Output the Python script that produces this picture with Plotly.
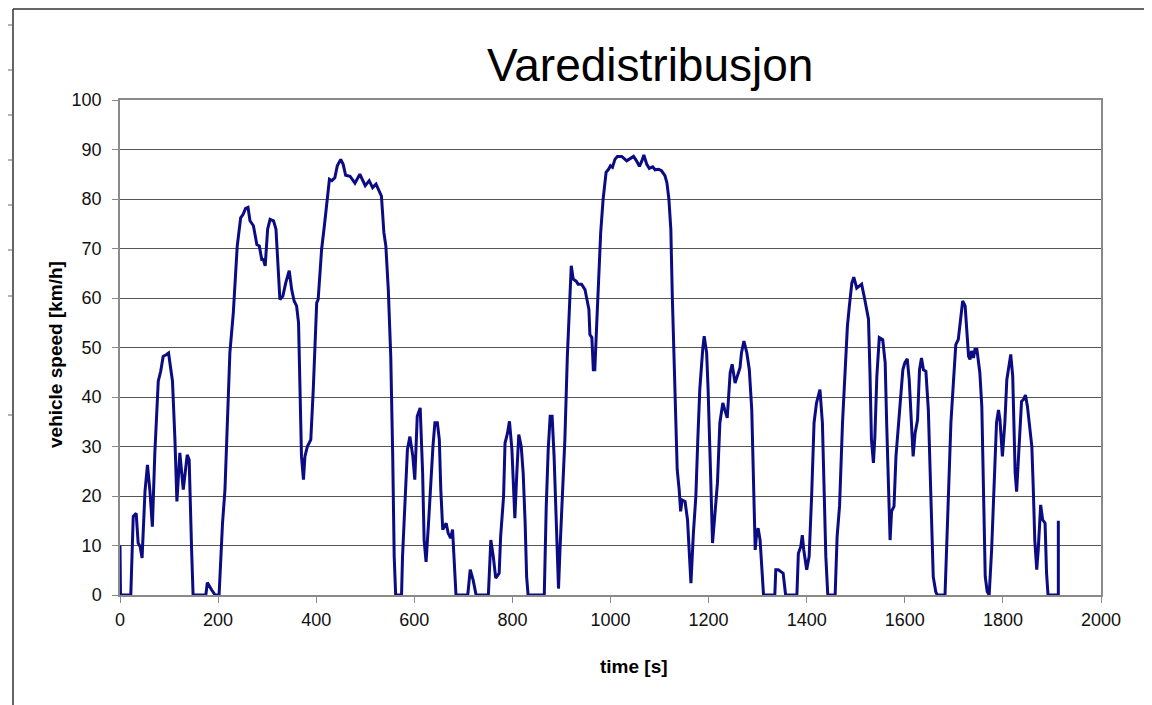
#importing necessary libraries
import plotly.graph_objs as go

#speed trace (time in s, speed in km/h)
time_s=[0,1,22,24,27,33,37,41,45,51,56,61,66,71,78,83,88,95,99,103,107,112,116,122,129,137,141,146,149,
        175,178,187,194,202,205,209,214,217,224,231,234,239,246,251,256,261,265,272,279,284,289,292,296,
        301,306,313,318,323,326,332,338,345,350,355,360,364,367,370,374,377,382,389,394,401,404,411,417,
        421,427,432,438,443,450,455,460,469,479,489,500,508,515,522,530,533,538,542,547,552,556,559,562,
        574,576,581,586,591,597,601,606,612,617,620,624,629,632,638,642,647,651,654,658,665,669,674,678,
        682,685,709,714,720,726,751,756,761,766,773,776,782,785,790,794,799,802,805,809,813,818,822,826,
        829,832,865,869,873,877,881,885,889,894,897,902,907,912,916,920,924,930,934,941,948,952,956,958,
        962,965,968,972,975,980,985,991,996,1000,1004,1009,1014,1023,1033,1047,1053,1059,1064,1068,1074,
        1079,1086,1091,1098,1104,1111,1115,1119,1123,1126,1130,1133,1136,1140,1143,1146,1152,1157,1160,
        1164,1169,1174,1178,1182,1188,1191,1196,1199,1204,1208,1213,1218,1223,1229,1233,1238,1244,1248,
        1254,1259,1264,1267,1272,1278,1283,1288,1291,1295,1298,1301,1305,1308,1312,1335,1337,1342,1352,
        1357,1380,1383,1388,1391,1394,1400,1405,1410,1415,1420,1427,1432,1435,1439,1443,1458,1462,1467,
        1473,1478,1483,1487,1492,1496,1502,1507,1512,1517,1522,1526,1529,1532,1536,1539,1543,1548,1555,
        1560,1563,1567,1570,1573,1578,1582,1587,1592,1596,1600,1605,1609,1613,1617,1621,1626,1630,1634,
        1638,1643,1648,1651,1655,1658,1663,1666,1682,1685,1689,1694,1699,1704,1709,1714,1718,1723,1726,
        1730,1733,1736,1740,1743,1747,1750,1753,1757,1760,1764,1768,1772,1777,1781,1784,1787,1791,1794,
        1799,1804,1808,1811,1816,1820,1823,1825,1828,1832,1835,1838,1842,1846,1850,1854,1859,1862,1865,
        1869,1872,1877,1881,1886,1889,1892,1913,1913]
speed_kmh=[10,0,0,7.8,15.9,16.5,10.5,9.8,7.5,21,26.3,21,13.8,28.7,43.2,45.2,48.2,48.6,48.9,46,43.2,31.4,18.9,28.7,21.3,28.3,27.3,9.1,0,
           0,2.5,1,0,0,7.8,14.5,21.3,30.7,48.9,57,61.7,70.5,76.2,76.9,78.1,78.3,75.6,74.6,70.8,70.5,67.8,67.8,66.5,
           73.9,75.9,75.6,73.9,64.4,59.7,60.4,63.1,65.5,61.7,59.4,58.4,55,41.5,28,23.3,28,30,31.4,41.5,59,59.7,69.8,74.9,
           78.6,84,83.7,84.3,86.7,88,87,84.8,84.6,83.2,85,82.7,83.7,82.3,83,81.3,80.6,73.2,70.5,61.7,48.2,28,7.8,0,
           0,7.8,19.2,29.4,32,28,23.3,36.1,37.8,24.6,11.1,6.7,14.5,19.9,30,34.8,34.8,31.4,21.3,13.2,14.5,12.5,11.5,13.2,
           6.4,0,0,5.1,3,0,0,11.1,7.8,3.4,4.4,11.8,19.9,30.7,32.7,35.1,29.4,21.3,15.5,24.6,32.4,30,24.6,14.5,
           3.7,0,0,17.9,29.4,36.1,36.1,28,14.5,1.3,9.1,19.9,31.4,48.2,58.4,66.5,63.8,63.4,62.8,62.8,61.7,59.4,57.7,52.6,
           52,45.5,45.5,55,61.7,73.2,80,85.4,86,86.7,86.4,88,88.6,88.6,87.7,88.6,87.7,86.6,87.7,88.9,87,
           86.2,86.5,85.9,86,85.7,84.7,83.3,80,73.9,60.4,44.9,34.8,25.3,21.3,16.9,19.2,18.9,15.2,9.1,
           2.4,12.5,19.9,31.4,41.5,49.6,52.3,48.9,41.5,24.6,10.5,16.5,22.6,34.8,38.8,37.4,35.8,44.9,46.6,
           42.8,44.2,45.9,48.9,51.3,48.9,45.5,37.4,24.6,9.1,12.5,13.5,11.1,6.4,0,0,5.1,5.1,4.4,
           0,0,8.4,9.8,12.1,9.1,5.1,7.8,19.9,34.8,38.8,41.5,34.8,21.3,7.8,0,0,11.8,18,
           34.8,44.9,54.3,58.4,63,64.2,62,62.4,62.8,60.4,57.7,55.7,44.9,31.4,26.7,32,44.2,52,51.6,
           46.9,34.8,21.3,11.1,16.9,17.9,28,34.8,41.5,45.5,46.9,47.7,43.5,35.4,28,32.7,35.4,45.5,47.9,
           45.5,45.2,37.4,28,14.5,3.7,0.7,0,0,7.8,19.9,34.8,42.8,50.6,51.6,56.3,59.4,58.4,53.6,
           48.2,47.6,49.3,47.9,49.6,49.6,47.6,44.9,38.1,24.6,3.7,0.7,0,9.1,19.9,29.4,34.8,37.4,35.4,
           28,34.8,43.5,45.5,48.6,44.2,34.8,24.6,20.9,28,34.8,39.1,39.5,40.4,38.1,34.8,30,21.3,11.1,
           5.1,9.1,18.2,15.2,14.5,4.4,0,0,15]

x_ticks=[0,200,400,600,800,1000,1200,1400,1600,1800,2000]
y_ticks=[0,10,20,30,40,50,60,70,80,90,100]

#the page puts the figure 8px in from the corner, so work in screen pixels and shift
OFF=8
W,H=1152-OFF,705-OFF
L,R,T,B=120-OFF,1101-OFF,100-OFF,595-OFF
pw,ph=R-L,B-T
def px(x): return (x-OFF-L)/pw
def py(y): return (B-(y-OFF))/ph

fig=go.Figure()

fig.add_trace(go.Scatter(
    x=time_s,
    y=speed_kmh,
    mode='lines',
    line=dict(color='#0b0b84',width=3),
    showlegend=False
))

#frame lines of the spreadsheet around the chart
shapes=[]
line_col='#333333'
shapes.append(dict(type='line',xref='paper',yref='paper',x0=px(13),x1=px(1148),y0=py(9),y1=py(9),line=dict(color=line_col,width=1.5)))
shapes.append(dict(type='line',xref='paper',yref='paper',x0=px(13),x1=px(13),y0=py(9),y1=py(706),line=dict(color=line_col,width=1.5)))
shapes.append(dict(type='line',xref='paper',yref='paper',x0=px(1148),x1=px(1148),y0=py(9),y1=py(706),line=dict(color=line_col,width=1.5)))
for yy in [25,70,115,160,205,250,296,415]:
    shapes.append(dict(type='line',xref='paper',yref='paper',x0=px(0),x1=px(13),y0=py(yy),y1=py(yy),line=dict(color='#666666',width=1)))

font_name='Liberation Sans, Arial, sans-serif'

# Update layout
fig.update_layout(
    width=W,height=H,
    margin=dict(l=L,r=W-R,t=T,b=H-B,autoexpand=False),
    paper_bgcolor='white',
    plot_bgcolor='white',
    font=dict(family=font_name,size=18,color='#111111'),
    xaxis=dict(range=[0,2000],tickvals=x_ticks,ticks='outside',ticklen=6,tickcolor='#888888',
               showgrid=False,zeroline=False,showline=True,linecolor='#8a8a8a',linewidth=1.5,mirror=True,
               tickfont=dict(size=18),ticklabelstandoff=2),
    yaxis=dict(range=[0,100],tickvals=y_ticks,ticks='outside',ticklen=6,tickcolor='#888888',
               showgrid=True,gridcolor='#555555',gridwidth=1,zeroline=False,showline=True,
               linecolor='#8a8a8a',linewidth=1.5,mirror=True,tickfont=dict(size=18),ticklabelstandoff=7),
    shapes=shapes,
    annotations=[
        dict(text='Varedistribusjon',xref='paper',yref='paper',x=px(650),y=py(65),showarrow=False,
             xanchor='center',yanchor='middle',font=dict(size=46,color='black')),
        dict(text='<b>time [s]</b>',xref='paper',yref='paper',x=px(634),y=py(666),showarrow=False,
             xanchor='center',yanchor='middle',font=dict(size=19,color='black')),
        dict(text='<b>vehicle speed [km/h]</b>',xref='paper',yref='paper',x=px(55),y=py(355),showarrow=False,
             textangle=-90,xanchor='center',yanchor='middle',font=dict(size=19,color='black')),
    ]
)

fig.write_html("out.html")
